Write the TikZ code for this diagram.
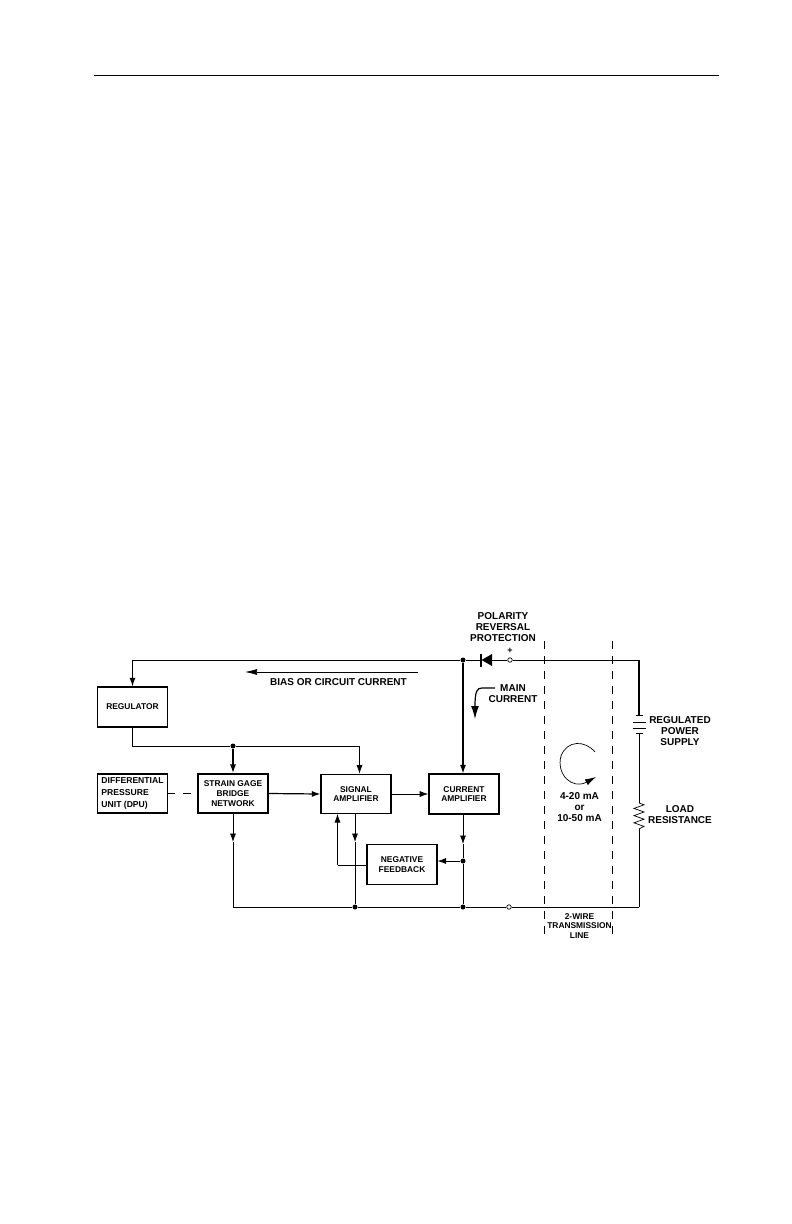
\documentclass[tikz,border=0pt]{standalone}
\usepackage{fontspec}
\setmainfont{Liberation Sans}
\usetikzlibrary{arrows.meta}

\tikzset{
	blockbox/.style={draw, line width=1.2pt, minimum width=70pt, minimum height=39.5pt, inner sep=0pt, align=center, font=\bfseries\fontsize{8.4}{9.6}\selectfont},
	heavybox/.style={blockbox, line width=1.6pt},
	tag/.style={inner sep=0pt, align=center, font=\bfseries\fontsize{10}{11}\selectfont},
	smalltag/.style={inner sep=0pt, align=center, font=\bfseries\fontsize{8.4}{9.6}\selectfont},
	wire/.style={line width=0.7pt},
	heavywire/.style={line width=1.2pt},
	tip/.style={-{Latex[length=8.5pt,width=6pt]}},
	dot/.style={circle, fill, inner sep=0pt, minimum size=5pt},
	terminal/.style={circle, draw, fill=white, line width=0.7pt, inner sep=0pt, minimum size=4.5pt},
	linedash/.style={dash pattern=on 8pt off 7pt}
}

\begin{document}
\begin{tikzpicture}[x=1pt, y=-1pt]
		\useasboundingbox (0,0) rectangle (792,1224);

		\coordinate (ruleL) at (94,75);
		\coordinate (ruleR) at (719,75);
		\draw[line width=1pt] (ruleL) -- (ruleR);

		\node[heavybox] at (132.5,707) (reg) {REGULATOR};
		\node[heavybox, font=\bfseries\fontsize{8.6}{12}\selectfont, align=left] at (132.5,793.5) (dpu) {DIFFERENTIAL\\PRESSURE\\UNIT (DPU)};
		\node[heavybox] at (233,793.5) (bridge) {STRAIN GAGE\\BRIDGE\\NETWORK};
		\node[blockbox] at (356,794) (signal) {SIGNAL\\AMPLIFIER};
		\node[heavybox] at (464,794) (current) {CURRENT\\AMPLIFIER};
		\node[blockbox] at (402,864.5) (feedback) {NEGATIVE\\FEEDBACK};

		\node[dot] at (463,660) (topjoin) {};
		\node[dot] at (233,746) (regjoin) {};
		\node[dot] at (463,861) (fbjoin) {};
		\node[dot] at (355,907) (botjoinA) {};
		\node[dot] at (463,907) (botjoinB) {};
		\node[terminal] at (510,660) (plus) {};
		\node[terminal] at (509,907) (minus) {};

		\coordinate (regcorner) at (132.5,660);
		\coordinate (regdown) at (132.5,746);
		\coordinate (sigcorner) at (359.5,746);
		\coordinate (diodeL) at (481,660);
		\coordinate (diodeR) at (492,660);
		\coordinate (dashB) at (612.5,660);
		\coordinate (topright) at (639,660);
		\coordinate (battop) at (639,715);
		\coordinate (batbot) at (639,733);
		\coordinate (restop) at (639,803);
		\coordinate (resbot) at (639,829);
		\coordinate (botright) at (639,907);
		\coordinate (botleft) at (233,907);
		\coordinate (fbcorner) at (337.5,865);
		\coordinate (fbup) at (337.5,814);
		\coordinate (fbleft) at (367,865);

		\draw[wire] (diodeR) -- (plus);
		\draw[wire] (plus) -- (dashB);
		\draw[wire] (diodeL) -- (topjoin);
		\draw[wire] (topjoin) -- (regcorner);
		\draw[heavywire, tip] (regcorner) -- (reg.north);
		\draw[wire] (reg.south) -- (regdown) -- (regjoin);
		\draw[wire] (regjoin) -- (sigcorner);
		\draw[wire, tip] (sigcorner) -- (sigcorner |- signal.north);
		\draw[heavywire, tip] (regjoin) -- (bridge.north);
		\draw[heavywire, tip] (topjoin) -- (current.north -| topjoin);

		\draw[wire, dash pattern=on 7pt off 8pt on 8pt off 7pt] (dpu.east) -- (bridge.west);
		\draw[heavywire, tip] (bridge.east) -- (signal.west);
		\draw[wire, tip] (signal.east) -- (current.west);

		\coordinate (bridgearrow) at (233,842);
		\coordinate (signalarrow) at (355,842);
		\coordinate (currentarrow) at (463,844);
		\draw[wire, tip] (bridge.south) -- (bridgearrow);
		\draw[wire] (bridgearrow) -- (botleft) -- (botjoinA);
		\draw[wire, tip] (signal.south -| signalarrow) -- (signalarrow);
		\draw[wire] (signalarrow) -- (botjoinA);
		\draw[wire, tip] (current.south -| currentarrow) -- (currentarrow);
		\draw[wire] (currentarrow) -- (fbjoin);
		\draw[wire] (fbjoin) -- (botjoinB);
		\draw[wire, tip] (fbjoin) -- (fbjoin -| feedback.east);
		\draw[wire] (fbleft) -- (fbcorner);
		\draw[wire, tip] (fbcorner) -- (fbup);
		\draw[wire] (botjoinA) -- (botjoinB);
		\draw[wire] (botjoinB) -- (minus);
		\draw[wire] (minus) -- (botright);

		\draw[wire] (dashB) -- (topright);
		\draw[heavywire] (topright) -- (battop);
		\draw[wire] (batbot) -- (restop);
		\draw[wire] (restop) -- ++(5,1.8) -- ++(-10,3.6) -- ++(10,3.6) -- ++(-10,3.6) -- ++(10,3.6) -- ++(-10,3.6) -- ++(10,3.6) -- (resbot);
		\draw[wire] (resbot) -- (botright);

		\coordinate (plateA) at (639,715);
		\coordinate (plateB) at (639,722);
		\coordinate (plateC) at (639,728);
		\coordinate (plateD) at (639,733);
		\draw[wire] ([xshift=-3.5pt]plateA) -- ([xshift=3.5pt]plateA);
		\draw[wire] ([xshift=-6.5pt]plateB) -- ([xshift=6.5pt]plateB);
		\draw[wire] ([xshift=-6.5pt]plateC) -- ([xshift=6.5pt]plateC);
		\draw[wire] ([xshift=-3.5pt]plateD) -- ([xshift=3.5pt]plateD);

		\fill (diodeL) ++(0.5,0) -- (492,654) -- (492,666) -- cycle;
		\draw[line width=2pt] (481,653.5) -- (481,666.5);

		\coordinate (dashAtop) at (544.5,641);
		\coordinate (dashAbot) at (544.5,934);
		\coordinate (dashBtop) at (612.5,641);
		\coordinate (dashBbot) at (612.5,934);
		\draw[wire, linedash] (dashAtop) -- (dashAbot);
		\draw[heavywire, linedash] (dashBtop) -- (dashBbot);

		\coordinate (biasR) at (418,672);
		\coordinate (biasL) at (245,672);
		\draw[wire, -{Latex[length=12pt,width=6pt]}] (biasR) -- (biasL);

		\coordinate (mainS) at (495,688);
		\coordinate (mainE) at (475,719);
		\draw[line width=1.2pt, -{Latex[length=13pt,width=8pt]}] (mainS) -- (482,688) .. controls (477,688) and (475,691) .. (mainE);

		\coordinate (loopS) at (595,752);
		\coordinate (loopE) at (596,777);
		\draw[wire, -{Latex[length=11pt,width=6.5pt]}] (loopS) .. controls (585,740) and (567,740) .. (561,756) .. controls (556,774) and (572,790) .. (loopE);

		\node[tag] at (503,627) (polarity) {POLARITY\\REVERSAL\\PROTECTION};
		\node[inner sep=0pt, font=\bfseries\fontsize{9}{10}\selectfont] at (510,651) (pluslabel) {+};
		\node[tag] at (338.5,682) (bias) {BIAS OR CIRCUIT CURRENT};
		\node[tag] at (513,693.5) (main) {MAIN\\CURRENT};
		\node[tag] at (680,731) (supply) {REGULATED\\POWER\\SUPPLY};
		\node[tag] at (680,815) (load) {LOAD\\RESISTANCE};
		\node[tag] at (579.5,807) (range) {4-20 mA\\or\\10-50 mA};
		\node[smalltag] at (579.5,926) (line) {2-WIRE\\TRANSMISSION\\LINE};
	\end{tikzpicture}
\end{document}
